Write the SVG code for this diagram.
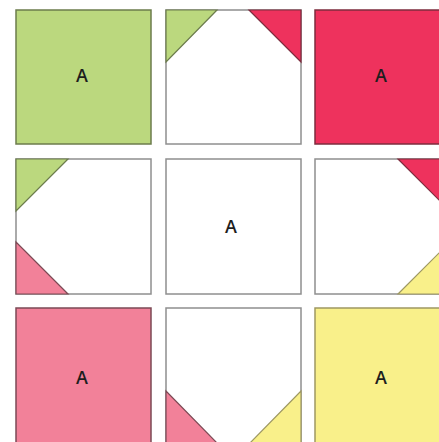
<svg xmlns="http://www.w3.org/2000/svg" width="439" height="442" viewBox="0 0 439 442">
<style>
.t{stroke-width:1.5}
.w{fill:#ffffff;stroke:#8f8f8f}
.g{fill:#bbd87e;stroke:#6c7c4c}
.r{fill:#ee325d;stroke:#7e2c3e}
.p{fill:#f28199;stroke:#7c4a55}
.y{fill:#f9f08a;stroke:#9e9862}
.tri{stroke-width:1.2;stroke-linejoin:miter}
text{font-family:"Open Sans","Liberation Sans",Arial,sans-serif;font-size:18px;font-weight:600;fill:#1e1e1e;text-anchor:middle;dominant-baseline:central}
</style>
<rect width="439" height="442" fill="#ffffff"/>
<g id="tile-1-1"><rect class="t g" x="16" y="10" width="135" height="134"/><text x="82" y="75">A</text></g>
<g id="tile-1-2"><rect class="t w" x="166" y="10" width="135" height="134"/>
<polygon class="tri g" points="166,10 217,10 166,62"/>
<polygon class="tri r" points="249,10 301,10 301,62"/></g>
<g id="tile-1-3"><rect class="t r" x="315" y="10" width="135" height="134"/><text x="381" y="75">A</text></g>
<g id="tile-2-1"><rect class="t w" x="16" y="159" width="135" height="135"/>
<polygon class="tri g" points="16,159 68,159 16,211"/>
<polygon class="tri p" points="16,242 16,294 68,294"/></g>
<g id="tile-2-2"><rect class="t w" x="166" y="159" width="135" height="135"/><text x="231" y="226">A</text></g>
<g id="tile-2-3"><rect class="t w" x="315" y="159" width="135" height="135"/>
<polygon class="tri r" points="398,159 450,159 450,211"/>
<polygon class="tri y" points="398,294 450,294 450,242"/></g>
<g id="tile-3-1"><rect class="t p" x="16" y="308" width="135" height="136"/><text x="82" y="377">A</text></g>
<g id="tile-3-2"><rect class="t w" x="166" y="308" width="135" height="136"/>
<polygon class="tri p" points="166,391 166,444 218,444"/>
<polygon class="tri y" points="301,391 301,444 249,444"/></g>
<g id="tile-3-3"><rect class="t y" x="315" y="308" width="135" height="136"/><text x="381" y="377">A</text></g>
<g id="connectors"/>
</svg>
